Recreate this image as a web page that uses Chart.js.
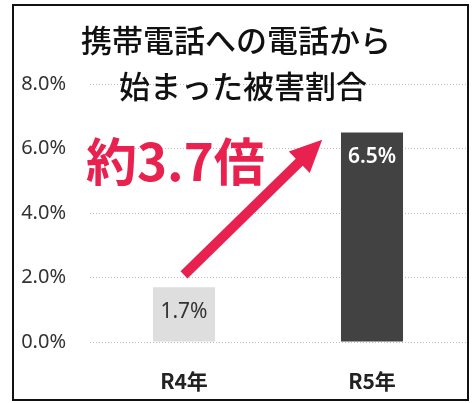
<!DOCTYPE html>
<html>
<head>
<meta charset="utf-8">
<script src="https://cdn.jsdelivr.net/npm/chart.js@4"></script>
<style>
  html, body { margin: 0; padding: 0; background: #fff; }
  #wrap { width: 475px; height: 403px; }
</style>
</head>
<body>
<div id="wrap"><canvas id="chart" width="475" height="403"></canvas></div>
<script>
// data
const categories = ['R4年', 'R5年'];
const shares = [1.7, 6.5];           // %
const titleLines = ['携帯電話への電話から', '始まった被害割合'];
const calloutText = '約3.7倍';

// styles
const barColors = ['#dedede', '#424242'];
const valueColors = ['#333333', '#ffffff'];
const red = '#e8214e';

// arrow + callout, in data units (x = category index, y = %)
const arrowFrom = { x: 0, y: 2.08 };
const arrowTo = { x: 0.735, y: 6.27 };
const calloutAt = { x: -0.5, y: 5.6 };

const jp = '"Noto Sans CJK JP", "Noto Sans", sans-serif';

// frame, title, value labels, arrow
const decorations = {
    id: 'decorations',
    beforeDraw(chart) {
        const ctx = chart.ctx;
        ctx.save();
        ctx.strokeStyle = '#111';
        ctx.lineWidth = 2;
        ctx.strokeRect(13, 5, 455, 395);
        ctx.restore();
    },
    afterDraw(chart) {
        const ctx = chart.ctx;
        const x = chart.scales.x;
        const y = chart.scales.y;
        ctx.save();

        // title
        ctx.fillStyle = '#111';
        ctx.font = '500 31px ' + jp;
        ctx.textAlign = 'center';
        ctx.textBaseline = 'middle';
        ctx.fillText(titleLines[0], 236, 40);
        ctx.fillText(titleLines[1], 243, 86);

        // value labels inside bars
        const meta = chart.getDatasetMeta(0);
        meta.data.forEach((bar, i) => {
            ctx.fillStyle = valueColors[i];
            ctx.font = (i === 1 ? '600 ' : '400 ') + '21px "Noto Sans", sans-serif';
            ctx.fillText(shares[i].toFixed(1) + '%', bar.x, bar.y + 25);
        });

        // arrow
        const x1 = x.getPixelForValue(arrowFrom.x), y1 = y.getPixelForValue(arrowFrom.y);
        const x2 = x.getPixelForValue(arrowTo.x), y2 = y.getPixelForValue(arrowTo.y);
        const ang = Math.atan2(y2 - y1, x2 - x1);
        const headLen = 32, headHalf = 15;
        const bx = x2 - headLen * Math.cos(ang), by = y2 - headLen * Math.sin(ang);
        ctx.strokeStyle = red;
        ctx.fillStyle = red;
        ctx.lineWidth = 10;
        ctx.lineCap = 'butt';
        ctx.beginPath();
        ctx.moveTo(x1, y1);
        ctx.lineTo(bx + 2 * Math.cos(ang), by + 2 * Math.sin(ang));
        ctx.stroke();
        ctx.beginPath();
        ctx.moveTo(x2, y2);
        ctx.lineTo(bx + headHalf * Math.sin(ang), by - headHalf * Math.cos(ang));
        ctx.lineTo(bx - headHalf * Math.sin(ang), by + headHalf * Math.cos(ang));
        ctx.closePath();
        ctx.fill();

        // callout
        ctx.font = '700 51px ' + jp;
        ctx.textAlign = 'left';
        ctx.fillText(calloutText, x.getPixelForValue(calloutAt.x) - 4, y.getPixelForValue(calloutAt.y));

        ctx.restore();
    }
};

new Chart(document.getElementById('chart'), {
    type: 'bar',
    data: {
        labels: categories,
        datasets: [{
            data: shares,
            backgroundColor: barColors,
            borderWidth: 0,
            barPercentage: 0.33,
            categoryPercentage: 1
        }]
    },
    options: {
        responsive: false,
        animation: false,
        layout: { padding: { top: 84, right: 9, left: 0, bottom: 0 } },
        plugins: {
            legend: { display: false },
            title: { display: false },
            tooltip: { enabled: false }
        },
        scales: {
            x: {
                grid: { display: false, drawTicks: false },
                border: { display: false },
                ticks: {
                    color: '#222',
                    padding: 26,
                    font: { family: jp, size: 21, weight: 'bold' }
                },
                afterFit: s => { s.height = 61; }
            },
            y: {
                min: 0,
                max: 8,
                ticks: {
                    stepSize: 2,
                    padding: 24,
                    color: '#333',
                    font: { family: '"Noto Sans", sans-serif', size: 20 },
                    callback: v => v.toFixed(1) + '%'
                },
                grid: { color: '#bdbdbd', lineWidth: 1, drawTicks: false, borderDash: [1, 2] },
                border: { display: false, dash: [1, 2] },
                afterFit: s => { s.width = 90; }
            }
        }
    },
    plugins: [decorations]
});
</script>
</body>
</html>
